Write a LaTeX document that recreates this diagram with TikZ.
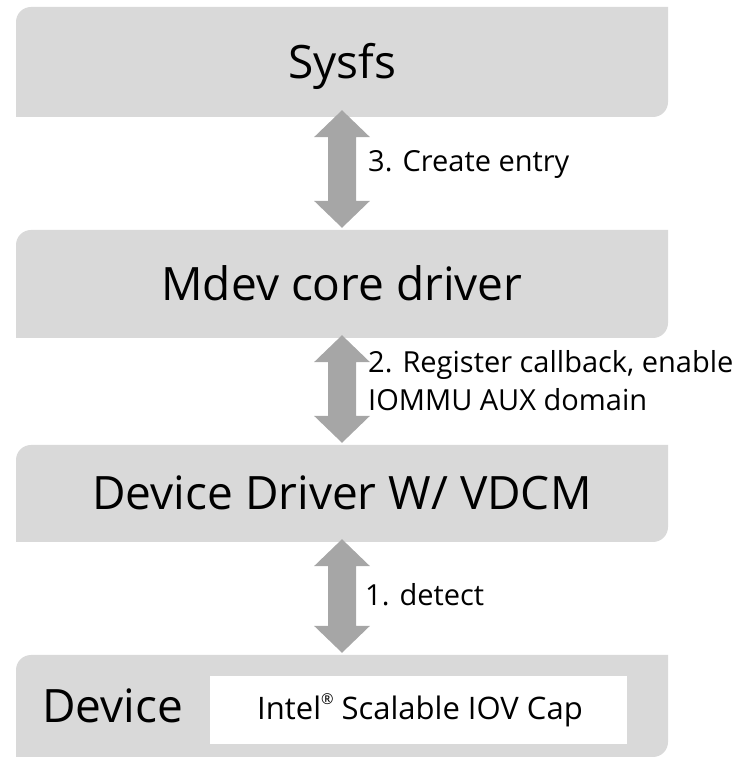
\documentclass[tikz,border=0pt]{standalone}
\usepackage{fontspec}
\setmainfont{Open Sans}
\usetikzlibrary{calc}
\definecolor{boxgrey}{HTML}{D9D9D9}
\definecolor{arrowgrey}{HTML}{A6A6A6}

% vertical two-way block arrow between two named tips (top, bottom)
\newcommand{\twowayarrow}[2]{%
  \fill[arrowgrey] (#1) -- ++(28,-27) -- ++(-14,0) -- ($(#2)+(14,27)$) -- ++(14,0)
    -- (#2) -- ++(-28,27) -- ++(14,0) -- ($(#1)+(-14,-27)$) -- ++(-14,0) -- cycle;}

\begin{document}
\begin{tikzpicture}[x=1pt,y=1pt,
  layer/.style={rectangle, inner sep=0pt, minimum width=652pt,
    font=\fontsize{46}{50}\selectfont, text height=33pt, text depth=0pt,
    path picture={
      \fill[boxgrey] (path picture bounding box.south west)
        -- ([yshift=-15pt]path picture bounding box.north west)
        arc[start angle=180, end angle=90, radius=15pt]
        -- (path picture bounding box.north east)
        -- ([yshift=15pt]path picture bounding box.south east)
        arc[start angle=0, end angle=-90, radius=15pt]
        -- cycle;}},
  steplabel/.style={inner sep=0pt, anchor=base west, font=\fontsize{29}{38}\selectfont},
  capbox/.style={fill=white, inner sep=0pt, minimum width=417pt, minimum height=68pt}]
\useasboundingbox (0,0) rectangle (744,760);

% stacked layers
\node[layer, minimum height=110pt] (sysfs) at (342,698) {Sysfs};
\node[layer, minimum height=108pt] (mdev) at (342,476) {Mdev core driver};
\node[layer, minimum height=97pt] (drv) at (342,266.5) {Device Driver W/ VDCM};
\node[layer, minimum height=102pt] (dev) at (342,54) {};

% contents of the device layer
\node[anchor=base west, inner sep=0pt, font=\fontsize{46}{50}\selectfont] (devname) at (42,37) {Device};
\node[capbox] (cap) at (418.5,50) {};
\node[anchor=base, inner sep=0pt, font=\fontsize{31}{36}\selectfont] (captext) at (420,40)
  {Intel\raisebox{0.5em}{\fontsize{15}{15}\selectfont ®} Scalable IOV Cap};

% arrow tips
\coordinate (a3t) at ([yshift=7pt]sysfs.south);
\coordinate (a3b) at ([yshift=2pt]mdev.north);
\coordinate (a2t) at ([yshift=3pt]mdev.south);
\coordinate (a2b) at ([yshift=2pt]drv.north);
\coordinate (a1t) at ([yshift=3pt]drv.south);
\coordinate (a1b) at ([yshift=2pt]dev.north);

\twowayarrow{a3t}{a3b}
\twowayarrow{a2t}{a2b}
\twowayarrow{a1t}{a1b}

% step labels
\node[steplabel] (l3) at (368,588) {3. Create entry};
\node[steplabel] (l2a) at (368,387) {2. Register callback, enable};
\node[steplabel] (l2b) at (368,349) {IOMMU AUX domain};
\node[steplabel] (l1) at (365,154) {1. detect};
\end{tikzpicture}
\end{document}
